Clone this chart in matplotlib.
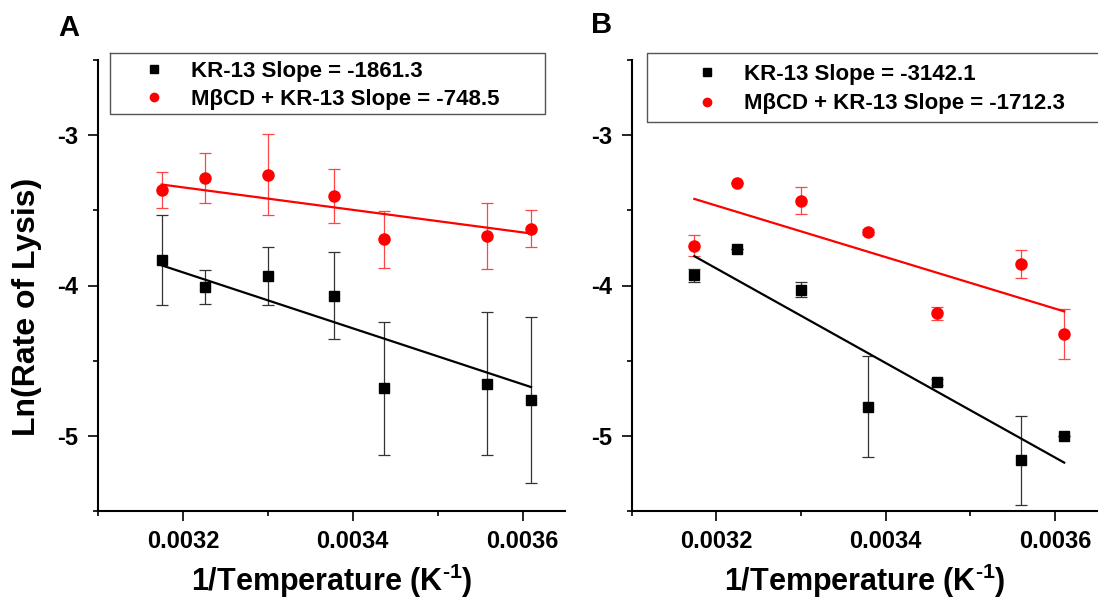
import matplotlib
matplotlib.use("Agg")
import matplotlib.pyplot as plt
from matplotlib.lines import Line2D
import numpy as np

plt.rcParams['font.family'] = ['Liberation Sans', 'DejaVu Sans']
plt.rcParams['font.weight'] = 'bold'
plt.rcParams['mathtext.fontset'] = 'custom'
plt.rcParams['mathtext.rm'] = 'Liberation Sans:bold'
plt.rcParams['mathtext.bf'] = 'Liberation Sans:bold'
plt.rcParams['mathtext.it'] = 'Liberation Sans:bold'

# ---------------- data ----------------
# Panel A
xA = [0.003175, 0.003226, 0.003300, 0.003378, 0.003437, 0.003558, 0.003610]
kr_A = [-3.831, -4.009, -3.938, -4.069, -4.685, -4.654, -4.761]
kr_A_err = [0.30, 0.115, 0.195, 0.29, 0.445, 0.475, 0.55]
mb_A = [-3.366, -3.286, -3.264, -3.406, -3.694, -3.670, -3.621]
mb_A_err = [0.12, 0.165, 0.27, 0.18, 0.19, 0.22, 0.12]
slope_A = [-1861.3, -748.5]          # KR-13, MbCD + KR-13
intercept_A = [2.0437, -0.9519]

# Panel B
xB = [0.003174, 0.003225, 0.003300, 0.003379, 0.003461, 0.003560, 0.003611]
kr_B = [-3.933, -3.758, -4.029, -4.807, -4.640, -5.162, -5.000]
kr_B_err = [0.045, 0.0, 0.05, 0.337, 0.02, 0.295, 0.0]
mb_B = [-3.736, -3.315, -3.435, -3.641, -4.186, -3.854, -4.322]
mb_B_err = [0.07, 0.0, 0.088, 0.02, 0.045, 0.093, 0.166]
slope_B = [-3142.1, -1712.3]
intercept_B = [6.168, 2.0108]

series_names = ['KR-13', 'M\u03b2CD + KR-13']
x_ticks = [0.0032, 0.0034, 0.0036]
y_ticks = [-5, -4, -3]

W, H = 1098, 599
fig = plt.figure(figsize=(W / 100, H / 100), dpi=100)

def fx(px):
    return px / W

def fy(py):
    return 1 - py / H

axA = fig.add_axes([fx(98), fy(511), 467 / W, 451 / H])
axB = fig.add_axes([fx(631.7), fy(511), 465.5 / W, 451 / H])

panels = [
    (axA, xA, kr_A, kr_A_err, mb_A, mb_A_err, slope_A, intercept_A),
    (axB, xB, kr_B, kr_B_err, mb_B, mb_B_err, slope_B, intercept_B),
]

for ax, x, kr, kre, mb, mbe, sl, ic in panels:
    x = np.array(x)
    ax.errorbar(x, kr, yerr=kre, fmt='none', ecolor='#333333', elinewidth=0.9,
                capsize=4, capthick=0.9, zorder=2)
    ax.errorbar(x, mb, yerr=mbe, fmt='none', ecolor='#ff4545', elinewidth=0.9,
                capsize=4, capthick=0.9, zorder=2)
    xl = np.array([x[0], x[-1]])
    ax.plot(xl, sl[0] * xl + ic[0], color='black', lw=1.6, zorder=3)
    ax.plot(xl, sl[1] * xl + ic[1], color='#ff0000', lw=1.6, zorder=3)
    ax.plot(x, kr, 's', color='black', ms=7, zorder=4)
    ax.plot(x, mb, 'o', color='#ff0000', ms=8, zorder=4)

    ax.set_xlim(0.0031, 0.00365)
    ax.set_ylim(-5.5, -2.5)
    ax.set_xticks(x_ticks)
    ax.set_xticklabels([f"{v:.4f}" for v in x_ticks])
    ax.set_xticks([0.0031, 0.0033, 0.0035], minor=True)
    ax.set_yticks(y_ticks)
    ax.set_yticklabels([str(v) for v in y_ticks])
    ax.set_yticks([-5.5, -4.5, -3.5, -2.5], minor=True)
    for s in ['top', 'right']:
        ax.spines[s].set_visible(False)
    for s in ['left', 'bottom']:
        ax.spines[s].set_linewidth(1.5)
    ax.tick_params(which='major', direction='out', length=7, width=1.2,
                   labelsize=17, pad=7)
    ax.tick_params(which='minor', direction='out', length=3.5, width=1.2)
    for lab in ax.get_xticklabels() + ax.get_yticklabels():
        lab.set_fontweight('bold')
    ax.set_xlabel('1/Temperature (K$^{\\text{-1}}$)', fontsize=22,
                  fontweight='bold', labelpad=6)

# y label
fig.text(fx(27), fy(307), 'Ln(Rate of Lysis)', rotation=90, ha='center',
         va='center', fontsize=23, fontweight='bold')

# panel letters
fig.text(fx(69), fy(28), 'A', ha='center', va='center', fontsize=21, fontweight='bold')
fig.text(fx(602), fy(25), 'B', ha='center', va='center', fontsize=21, fontweight='bold')

# legends
legend_specs = [
    (axA, slope_A, (110, 53, 545, 114), True, 143, 61, 0.3),
    (axB, slope_B, (647, 53, 1098, 122), False, 696, 64, 0.38),
]
for ax, sl, box, closed, lx, ly, lsp in legend_specs:
    x0, y0, x1, y1 = box
    if closed:
        px = [x0, x1, x1, x0, x0]
        py = [y0, y0, y1, y1, y0]
    else:
        px = [x1, x0, x0, x1]
        py = [y0, y0, y1, y1]
    fig.add_artist(Line2D([fx(p) for p in px], [fy(p) for p in py],
                          transform=fig.transFigure, color='#555555', lw=1.0,
                          clip_on=False))
    handles = [
        Line2D([], [], marker='s', color='black', ls='none', ms=5.5),
        Line2D([], [], marker='o', color='#ff0000', ls='none', ms=6),
    ]
    labels = [f"{series_names[i]} Slope = {sl[i]}" for i in range(2)]
    ax.legend(handles, labels, loc='upper left',
              bbox_to_anchor=(fx(lx), fy(ly)), bbox_transform=fig.transFigure,
              frameon=False, borderpad=0, borderaxespad=0, handlelength=1.0,
              handletextpad=1.15, labelspacing=lsp,
              prop={'size': 16, 'weight': 'bold'})

fig.savefig('out.png', dpi=100)
